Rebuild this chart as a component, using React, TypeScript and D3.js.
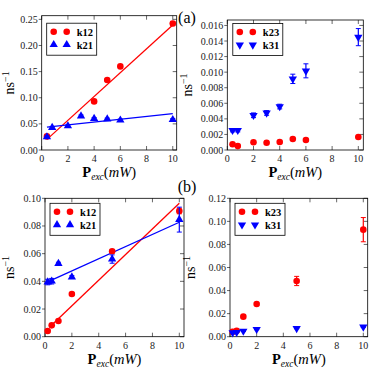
import React from 'react';
import * as d3 from 'd3';

// ---- data ----
// (a) left
const aLx12 = [0.4, 4, 5, 6, 10];
const aLy12 = [0.026, 0.093, 0.134, 0.160, 0.242];
const aLe12 = [0.002, 0.002, 0.002, 0.002, 0.004];
const aLx21 = [0.4, 0.8, 2, 3, 4, 5, 6, 10];
const aLy21 = [0.025, 0.043, 0.046, 0.065, 0.060, 0.059, 0.057, 0.058];
const aLe21 = [0.002, 0.002, 0.002, 0.002, 0.002, 0.002, 0.002, 0.002];
const aLfit12 = [0.0228, 0.0112]; // slope, intercept
const aLfit21 = [0.00266, 0.0429];
const aLfitRange = [0.4, 10];

// (a) right
const aRx23 = [0.4, 0.8, 2, 3, 4, 5, 6, 10];
const aRy23 = [0.00073, 0.0005, 0.00099, 0.00094, 0.00103, 0.00142, 0.00129, 0.00167];
const aRe23 = [0.0001, 0.0001, 0.0001, 0.0001, 0.0001, 0.0001, 0.0001, 0.0001];
const aRx31 = [0.4, 0.8, 2, 3, 4, 5, 6, 10];
const aRy31 = [0.00253, 0.00253, 0.00446, 0.00476, 0.00558, 0.00914, 0.01017, 0.0145];
const aRe31 = [0.0002, 0.0002, 0.0003, 0.0003, 0.0003, 0.0006, 0.0009, 0.0011];

// (b) left
const bLx12 = [0.2, 0.5, 1, 2, 5, 10];
const bLy12 = [0.0041, 0.0082, 0.0113, 0.0308, 0.0617, 0.0908];
const bLe12 = [0.001, 0.001, 0.001, 0.001, 0.001, 0.002];
const bLx21 = [0.2, 0.5, 1, 2, 5, 10];
const bLy21 = [0.0395, 0.0401, 0.0528, 0.0431, 0.0561, 0.0846];
const bLe21 = [0.002, 0.002, 0.001, 0.001, 0.003, 0.009];
const bLfit12 = [0.00926, 0.00377];
const bLfit21 = [0.0044, 0.0387];
const bLfitRange12 = [0.35, 10];
const bLfitRange21 = [0.2, 10];

// (b) right
const bRx23 = [0.2, 0.5, 1, 2, 5, 10];
const bRy23 = [0.0043, 0.0052, 0.0174, 0.0283, 0.0483, 0.0928];
const bRe23 = [0.002, 0.001, 0.001, 0.001, 0.004, 0.0105];
const bRx31 = [0.2, 0.5, 1, 2, 5, 10];
const bRy31 = [0.0035, 0.0038, 0.0049, 0.0064, 0.0072, 0.0084];
const bRe31 = [0.0003, 0.0003, 0.0003, 0.0003, 0.0003, 0.0003];

const xTicks = [0, 2, 4, 6, 8, 10];
const aLyTicks = [0, 0.05, 0.10, 0.15, 0.20, 0.25];
const aRyTicks = [0, 0.002, 0.004, 0.006, 0.008, 0.010, 0.012, 0.014, 0.016];
const bLyTicks = [0, 0.02, 0.04, 0.06, 0.08, 0.10];
const bRyTicks = [0, 0.02, 0.04, 0.06, 0.08, 0.10, 0.12];

const RED = '#ff0000';
const BLUE = '#0000ff';
const FONT = '"Liberation Serif", "DejaVu Serif", serif';

type Series = { x: number[]; y: number[]; e: number[]; color: string; shape: string; label: string };
type Fit = { k: number[]; range: number[]; color: string };

const Marker = ({ shape, cx, cy, color }: any) => {
  if (shape === 'circle') return <circle cx={cx} cy={cy} r={3.3} fill={color} />;
  const p = d3.symbol(d3.symbolTriangle, 30)() as string;
  const rot = shape === 'down' ? 180 : 0;
  return <path d={p} fill={color} transform={`translate(${cx},${cy}) rotate(${rot})`} />;
};

const Panel = (props: any) => {
  const { left, top, right, bottom, xMax, yMax, yTicks, fmt, series, fits, labelX } = props;
  const x = d3.scaleLinear().domain([0, xMax]).range([left, right]);
  const y = d3.scaleLinear().domain([0, yMax]).range([bottom, top]);
  const tl = 4;
  return (
    <g>
      <defs>
        <clipPath id={`clip${left}${top}`}>
          <rect x={left} y={top} width={right - left} height={bottom - top} />
        </clipPath>
      </defs>
      <rect x={left} y={top} width={right - left} height={bottom - top} fill="white" stroke="black" strokeWidth={0.8} />
      {xTicks.map((t) => (
        <g key={'xt' + t}>
          <line x1={x(t)} x2={x(t)} y1={bottom} y2={bottom - tl} stroke="black" strokeWidth={0.6} />
          <line x1={x(t)} x2={x(t)} y1={top} y2={top + tl} stroke="black" strokeWidth={0.6} />
          <text x={x(t)} y={bottom + 12} textAnchor="middle" fontSize={10} fontFamily={FONT} fill="#222">{t}</text>
        </g>
      ))}
      {yTicks.map((t: number) => (
        <g key={'yt' + t}>
          <line x1={left - 3} x2={left} y1={y(t)} y2={y(t)} stroke="black" strokeWidth={0.6} />
          <line x1={right} x2={right - tl} y1={y(t)} y2={y(t)} stroke="black" strokeWidth={0.6} />
          <text x={left - 4} y={y(t) + 3.5} textAnchor="end" fontSize={10} fontFamily={FONT} fill="#222">{fmt(t)}</text>
        </g>
      ))}
      <g clipPath={`url(#clip${left}${top})`}>
        {fits.map((f: Fit, i: number) => (
          <line key={'f' + i}
            x1={x(f.range[0])} y1={y(f.k[0] * f.range[0] + f.k[1])}
            x2={x(f.range[1])} y2={y(f.k[0] * f.range[1] + f.k[1])}
            stroke={f.color} strokeWidth={1.3} />
        ))}
      </g>
      {series.map((s: Series, si: number) => (
        <g key={'s' + si}>
          {s.x.map((xv, i) => (
            <g key={i}>
              <line x1={x(xv)} x2={x(xv)} y1={y(s.y[i] - s.e[i])} y2={y(s.y[i] + s.e[i])} stroke={s.color} strokeWidth={1.2} />
              <line x1={x(xv) - 2.5} x2={x(xv) + 2.5} y1={y(s.y[i] - s.e[i])} y2={y(s.y[i] - s.e[i])} stroke={s.color} strokeWidth={1} />
              <line x1={x(xv) - 2.5} x2={x(xv) + 2.5} y1={y(s.y[i] + s.e[i])} y2={y(s.y[i] + s.e[i])} stroke={s.color} strokeWidth={1} />
              <Marker shape={s.shape} cx={x(xv)} cy={y(s.y[i])} color={s.color} />
            </g>
          ))}
        </g>
      ))}
      {/* legend */}
      <g transform={`translate(${left + props.legDx},${top + props.legDy})`}>
        <rect x={0} y={0} width={50} height={32} fill="white" stroke="black" strokeWidth={0.8} />
        {series.map((s: Series, i: number) => (
          <g key={'l' + i} transform={`translate(0,${8.5 + i * 13})`}>
            <Marker shape={s.shape} cx={7} cy={0} color={s.color} />
            <Marker shape={s.shape} cx={20} cy={0} color={s.color} />
            <text x={30} y={4} fontSize={10.5} fontWeight="bold" fontFamily={FONT}>{s.label}</text>
          </g>
        ))}
      </g>
      {/* axis labels */}
      <text transform={`translate(${labelX},${(top + bottom) / 2}) rotate(-90)`} textAnchor="middle" fontSize={14} fontFamily={FONT}>
        ns<tspan dy={-5} fontSize={10}>−1</tspan>
      </text>
      <text x={(left + right) / 2} y={bottom + 27} textAnchor="middle" fontSize={14.5} fontFamily={FONT}>
        <tspan fontWeight="bold">P</tspan>
        <tspan dy={3} fontSize={9.5} fontStyle="italic">exc</tspan>
        <tspan dy={-3}>(</tspan>
        <tspan fontStyle="italic">mW</tspan>
        <tspan>)</tspan>
      </text>
    </g>
  );
};

const f2 = (d: number) => d3.format('.2f')(d);
const f3 = (d: number) => d3.format('.3f')(d);

export default function App() {
  return (
    <div style={{ position: 'absolute', left: 0, top: 0 }}>
      <svg width={374} height={370} style={{ display: 'block', background: 'white' }}>
        <Panel left={41.7} top={15.7} right={176.7} bottom={150} xMax={10.3} yMax={0.257}
          yTicks={aLyTicks} fmt={f2} labelX={14} legDx={5} legDy={7.5}
          series={[
            { x: aLx12, y: aLy12, e: aLe12, color: RED, shape: 'circle', label: 'k12' },
            { x: aLx21, y: aLy21, e: aLe21, color: BLUE, shape: 'up', label: 'k21' },
          ]}
          fits={[
            { k: aLfit12, range: aLfitRange, color: RED },
            { k: aLfit21, range: aLfitRange, color: BLUE },
          ]} />
        <Panel left={227.3} top={20} right={363.3} bottom={150} xMax={10.38} yMax={0.0167}
          yTicks={aRyTicks} fmt={f3} labelX={192} legDx={5.5} legDy={3.5}
          series={[
            { x: aRx23, y: aRy23, e: aRe23, color: RED, shape: 'circle', label: 'k23' },
            { x: aRx31, y: aRy31, e: aRe31, color: BLUE, shape: 'down', label: 'k31' },
          ]}
          fits={[]} />
        <Panel left={45} top={198.3} right={184} bottom={336.7} xMax={10.35} yMax={0.10}
          yTicks={bLyTicks} fmt={f2} labelX={14} legDx={5} legDy={5}
          series={[
            { x: bLx12, y: bLy12, e: bLe12, color: RED, shape: 'circle', label: 'k12' },
            { x: bLx21, y: bLy21, e: bLe21, color: BLUE, shape: 'up', label: 'k21' },
          ]}
          fits={[
            { k: bLfit12, range: bLfitRange12, color: RED },
            { k: bLfit21, range: bLfitRange21, color: BLUE },
          ]} />
        <Panel left={230} top={198.3} right={367.7} bottom={336.7} xMax={10.33} yMax={0.12}
          yTicks={bRyTicks} fmt={f2} labelX={195} legDx={5} legDy={5}
          series={[
            { x: bRx23, y: bRy23, e: bRe23, color: RED, shape: 'circle', label: 'k23' },
            { x: bRx31, y: bRy31, e: bRe31, color: BLUE, shape: 'down', label: 'k31' },
          ]}
          fits={[]} />
        <text x={187} y={23} textAnchor="middle" fontSize={16} fontFamily={FONT}>(a)</text>
        <text x={187} y={192} textAnchor="middle" fontSize={16} fontFamily={FONT}>(b)</text>
      </svg>
    </div>
  );
}
